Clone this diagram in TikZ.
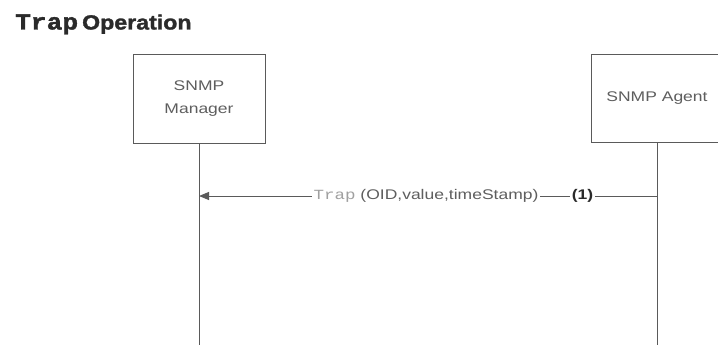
\documentclass[tikz,border=0pt]{standalone}
\usepackage{fontspec}
\setmainfont{Liberation Sans}
\newfontfamily\lsans[FakeStretch=1.25]{Liberation Sans}
\newfontfamily\lmono[FakeStretch=1.25]{Liberation Mono}
\newfontfamily\tsans[FakeStretch=1.13,FakeBold=1.5]{Liberation Sans}
\newfontfamily\tmono[FakeStretch=1.14,FakeBold=1.5]{Liberation Mono}
\usetikzlibrary{arrows.meta}
\definecolor{linegray}{HTML}{5A5A5A}
\definecolor{boxtext}{HTML}{5E5E5E}
\definecolor{titlegray}{HTML}{2A2A2A}
\definecolor{lightmono}{HTML}{A0A0A0}
\tikzset{
  lifebox/.style={draw=linegray, line width=1pt, minimum width=132pt, minimum height=88pt,
    align=center, text=boxtext, font=\lsans\fontsize{14}{23}\selectfont, inner sep=0pt},
  lifeline/.style={draw=linegray, line width=1pt},
  msgline/.style={draw=linegray, line width=1pt, -{Triangle[length=10pt,width=8pt]}},
  msglabel/.style={fill=white, inner sep=1.5pt, text=boxtext, font=\lsans\fontsize{14}{16}\selectfont}
}
\begin{document}
\begin{tikzpicture}[x=1pt,y=-1pt]
\useasboundingbox[fill=white] (0,0) rectangle (718,345);
\node[anchor=base west, inner sep=0pt, text=titlegray] (title) at (15,29.5)
  {{\tmono\bfseries\fontsize{23}{26}\selectfont Trap}\hspace{4pt}{\tsans\bfseries\fontsize{20.5}{22}\selectfont Operation}};
\node[lifebox] (mgr) at (199,99) {SNMP\\Manager};
\node[lifebox] (agt) at (657,98.5) {SNMP Agent};
\coordinate (mend) at (199,345);
\coordinate (aend) at (657,345);
\coordinate (mmsg) at (199,196);
\coordinate (amsg) at (657,196);
\draw[lifeline] (mgr.south) -- (mend);
\draw[lifeline] (agt.south) -- (aend);
\draw[msgline] (amsg) -- (mmsg);
\node[msglabel] (lbl) at (426,196) {{\lmono\color{lightmono}Trap} (OID,value,timeStamp)};
\node[msglabel, font=\lsans\bfseries\fontsize{14}{16}\selectfont, text=titlegray] (num) at (582.5,196) {(1)};
\end{tikzpicture}
\end{document}
